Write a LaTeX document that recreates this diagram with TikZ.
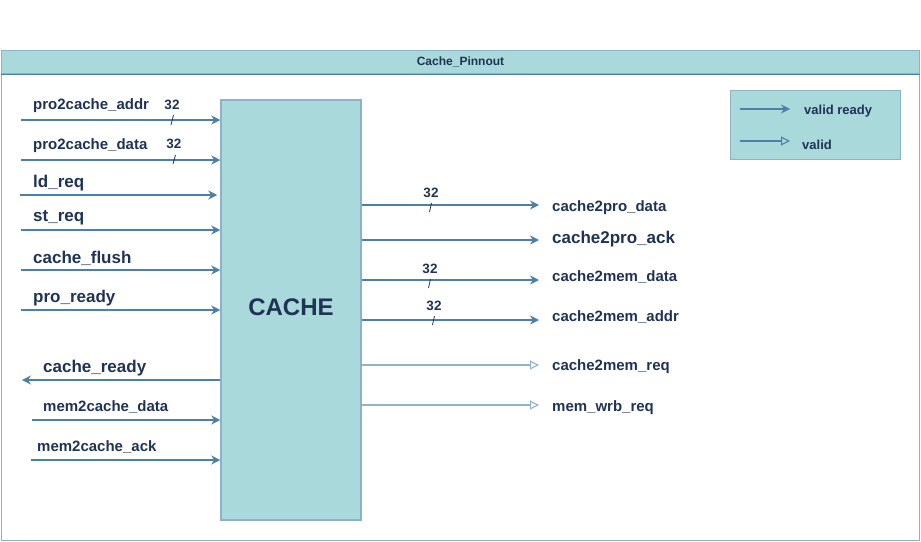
\documentclass[tikz,border=0pt]{standalone}
\usepackage{fontspec}
\setmainfont{Liberation Sans}
\usetikzlibrary{arrows.meta}
\definecolor{boxfill}{HTML}{A9D9DB}
\definecolor{boxline}{HTML}{8DB1C6}
\definecolor{wire}{HTML}{4D80A6}
\definecolor{lightwire}{HTML}{8FB4C9}
\definecolor{ink}{HTML}{1F3354}
\begin{document}
\begin{tikzpicture}[x=1pt, y=-1pt,
    sig/.style={draw=wire, fill=wire, line width=1.1pt, -{Stealth[length=9pt, width=9pt, inset=3pt]}},
    vsig/.style={draw=lightwire, line width=1.1pt, -{Triangle[open, length=9pt, width=9pt]}},
    lbl/.style={anchor=west, inner sep=0, text=ink, font=\fontsize{15}{17}\bfseries},
    biglbl/.style={anchor=west, inner sep=0, text=ink, font=\fontsize{17}{19}\bfseries},
    width/.style={inner sep=0, text=ink, font=\fontsize{13.5}{15}\bfseries}]
    \useasboundingbox (0,0) rectangle (921,541);

    \node[draw=boxline, line width=1pt, minimum width=918, minimum height=490, anchor=north west] (frame) at (1,50) {};
    \node[draw=boxline, fill=boxfill, line width=1pt, minimum width=918, minimum height=23, anchor=north west, text=ink, font=\fontsize{12}{13}\bfseries] (title) at (1,50) {Cache\_Pinnout};
    \draw[wire, line width=1pt] (title.south west) -- (title.south east);

    \node[draw=boxline, fill=boxfill, line width=1.5pt, minimum width=140, minimum height=420] (cache) at (291,310) {};
    \node[text=ink, font=\fontsize{24}{26}\bfseries] (cachetxt) at (291,307) {CACHE};

    % inputs
    \coordinate (a1) at (21,120);
    \coordinate (a2) at (21,160);
    \coordinate (a3) at (20,195);
    \coordinate (a4) at (21,230);
    \coordinate (a5) at (21,270);
    \coordinate (a6) at (21,310);
    \coordinate (a7) at (22,380);
    \coordinate (a8) at (32,420);
    \coordinate (a9) at (31,460);

    \node[lbl] (n1) at (33,106) {pro2cache\_addr};
    \node[lbl] (n2) at (33,146) {pro2cache\_data};
    \node[biglbl] (n3) at (33,183) {ld\_req};
    \node[biglbl] (n4) at (33,218) {st\_req};
    \node[biglbl] (n5) at (33,258) {cache\_flush};
    \node[biglbl] (n6) at (33,298) {pro\_ready};
    \node[biglbl] (n7) at (43,368) {cache\_ready};
    \node[lbl] (n8) at (43,407) {mem2cache\_data};
    \node[lbl] (n9) at (37,447) {mem2cache\_ack};

    \draw[sig] (a1) -- (cache.west |- a1);
    \draw[sig] (a2) -- (cache.west |- a2);
    \draw[sig] (a3) -- ([xshift=-3pt]cache.west |- a3);
    \draw[sig] (a4) -- (cache.west |- a4);
    \draw[sig] (a5) -- (cache.west |- a5);
    \draw[sig] (a6) -- (cache.west |- a6);
    \draw[sig] (cache.west |- a7) -- (a7);
    \draw[sig] (a8) -- (cache.west |- a8);
    \draw[sig] (a9) -- (cache.west |- a9);

    \node[width] (w1) at (172,105) {32};
    \node[width] (w2) at (174,144) {32};
    \draw[ink, line width=0.8pt] (173.5,115) -- (171,125);
    \draw[ink, line width=0.8pt] (175.5,155) -- (173,164);

    % outputs
    \coordinate (b1) at (539,205);
    \coordinate (b2) at (539,240);
    \coordinate (b3) at (539,280);
    \coordinate (b4) at (539,320);
    \coordinate (b5) at (539,365);
    \coordinate (b6) at (539,405);

    \node[lbl] (m1) at (552,208) {cache2pro\_data};
    \node[biglbl] (m2) at (552,239) {cache2pro\_ack};
    \node[lbl] (m3) at (552,277) {cache2mem\_data};
    \node[lbl] (m4) at (552,317) {cache2mem\_addr};
    \node[lbl] (m5) at (552,367) {cache2mem\_req};
    \node[lbl] (m6) at (552,408) {mem\_wrb\_req};

    \draw[sig] (cache.east |- b1) -- (b1);
    \draw[sig] (cache.east |- b2) -- (b2);
    \draw[sig] (cache.east |- b3) -- (b3);
    \draw[sig] (cache.east |- b4) -- (b4);
    \draw[vsig] (cache.east |- b5) -- (b5);
    \draw[vsig] (cache.east |- b6) -- (b6);

    \node[width] (w3) at (431,193) {32};
    \node[width] (w4) at (430,269) {32};
    \node[width] (w5) at (434,306) {32};
    \draw[ink, line width=0.8pt] (431.5,203) -- (429.5,212);
    \draw[ink, line width=0.8pt] (430.5,279) -- (428.5,288);
    \draw[ink, line width=0.8pt] (434.5,316) -- (432.5,325);

    % legend
    \node[draw=boxline, fill=boxfill, line width=1pt, minimum width=170, minimum height=69, anchor=north west] (key) at (730,90) {};
    \coordinate (k1) at (740,109);
    \coordinate (k2) at (790,109);
    \coordinate (k3) at (740,141);
    \coordinate (k4) at (790,141);
    \draw[sig] (k1) -- (k2);
    \draw[vsig, draw=wire] (k3) -- (k4);
    \node[anchor=west, inner sep=0, text=ink, font=\fontsize{13}{15}\bfseries] (kv1) at (804,111) {valid ready};
    \node[anchor=west, inner sep=0, text=ink, font=\fontsize{13}{15}\bfseries] (kv2) at (802,145) {valid};
\end{tikzpicture}
\end{document}
